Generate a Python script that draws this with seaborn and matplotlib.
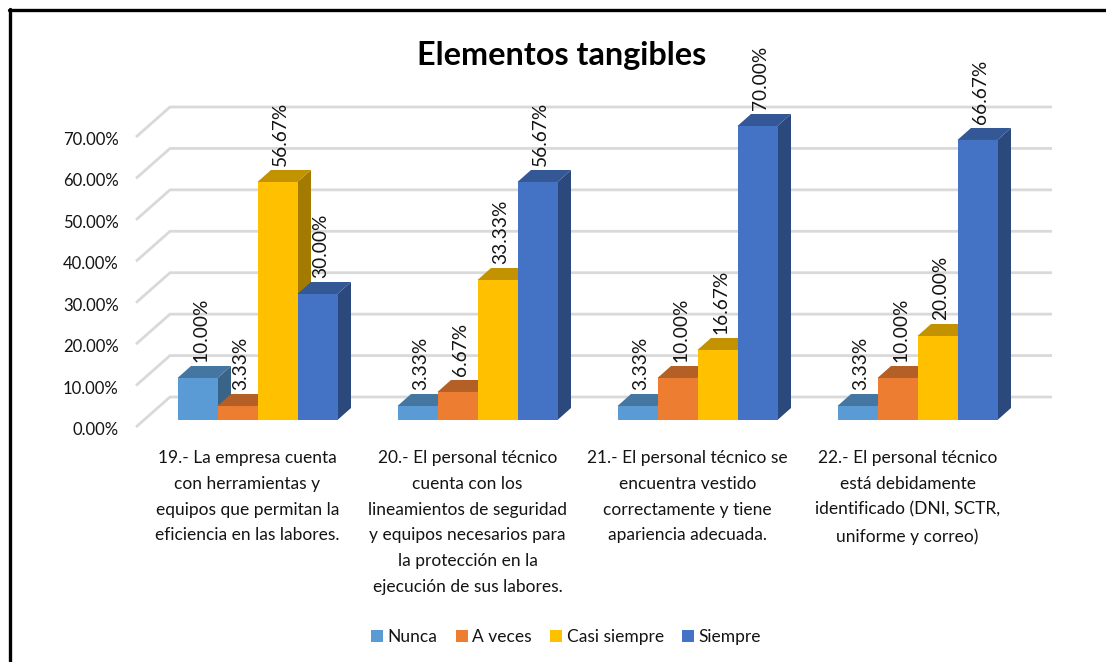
import matplotlib
matplotlib.use("Agg")
import matplotlib.pyplot as plt
import matplotlib.colors as mcolors
from matplotlib.lines import Line2D
from matplotlib.patches import Patch, Polygon
from matplotlib.transforms import IdentityTransform, ScaledTranslation
import pandas as pd
import seaborn as sns

TITLE = "Elementos tangibles"
QUESTIONS = [
    "19.- La empresa cuenta\ncon herramientas y\nequipos que permitan la\neficiencia en las labores.",
    "20.- El personal técnico\ncuenta con los\nlineamientos de seguridad\ny equipos necesarios para\nla protección en la\nejecución de sus labores.",
    "21.- El personal técnico se\nencuentra vestido\ncorrectamente y tiene\napariencia adecuada.",
    "22.- El personal técnico\nestá debidamente\nidentificado (DNI, SCTR,\nuniforme y correo)",
]
SERIES = ["Nunca", "A veces", "Casi siempre", "Siempre"]
NUNCA = [10.00, 3.33, 3.33, 3.33]
A_VECES = [3.33, 6.67, 10.00, 10.00]
CASI_SIEMPRE = [56.67, 33.33, 16.67, 20.00]
SIEMPRE = [30.00, 56.67, 70.00, 66.67]
TICKS = [0, 10, 20, 30, 40, 50, 60, 70]
COLORS = ["#5B9BD5", "#ED7D31", "#FFC000", "#4472C4"]

W, H = 1106, 662
DX, DY = 13.5, 12.0
FONT = "Lato"
INK = "#141414"

sns.set_theme(style="white")
plt.rcParams["font.family"] = [FONT, "DejaVu Sans"]

df = pd.DataFrame({"q": QUESTIONS * 4,
                   "s": [s for s in SERIES for _ in QUESTIONS],
                   "v": NUNCA + A_VECES + CASI_SIEMPRE + SIEMPRE})

fig = plt.figure(figsize=(W / 100, H / 100), dpi=100, facecolor="white")


def rect(l, t, r, b):
    return [l / W, 1 - b / H, (r - l) / W, (b - t) / H]


def shift(artist, dx_px, dy_px):
    artist.set_transform(artist.get_transform()
                         + ScaledTranslation(dx_px / 100, dy_px / 100, fig.dpi_scale_trans))


# Wall / grid axes
wall = fig.add_axes(rect(136, 137, 1052, 427), zorder=1)
wall.set_ylim(0, 70)
wall.set_xlim(0, 1)
wall.set_xticks([])
wall.set_yticks(TICKS)
wall.set_yticklabels([f"{t:.2f}%" for t in TICKS], fontsize=12, color=INK)
wall.tick_params(axis="y", length=0, pad=12.5)
for lab in wall.get_yticklabels():
    shift(lab, 0, -1.5)
for s in wall.spines.values():
    s.set_visible(False)
wall.patch.set_alpha(0)
back = 30 / (290 / 70)
inner = 34 / 916
for t in TICKS:
    wall.plot([0, inner, 1], [t, t + back, t + back], color="#D9D9D9", lw=2.0,
              clip_on=False, solid_capstyle="butt", solid_joinstyle="miter")

# Bars
ax = fig.add_axes(rect(147.5, 0, 1027.5, 420), zorder=2)
ax.patch.set_alpha(0)
sns.barplot(data=df, x="q", y="v", hue="s", hue_order=SERIES, palette=COLORS,
            width=160 / 220, gap=0, saturation=1, legend=False, ax=ax, errorbar=None,
            linewidth=0, edgecolor="none")
ax.set_ylim(0, 100)
ax.set_xlim(-0.5, 3.5)
ax.set_xlabel("")
ax.set_ylabel("")
ax.set_yticks([])
for s in ax.spines.values():
    s.set_visible(False)
ax.tick_params(axis="x", length=0, pad=21.7)
for lab in ax.get_xticklabels():
    lab.set_fontsize(12.5)
    lab.set_color(INK)
    lab.set_linespacing(1.75)
    lab.set_ha("center")
    lab.set_va("top")
    shift(lab, -10, 0)


def shade(c, f):
    r, g, b = mcolors.to_rgb(c)
    return (r * f, g * f, b * f)


fig.canvas.draw()
z = 3
# draw bars left to right so later bars overlap earlier side faces
all_bars = sorted(((b, ci) for ci, cont in enumerate(ax.containers) for b in cont),
                  key=lambda p: p[0].get_x())
for bar, ci in all_bars:
    x0, x1 = bar.get_x(), bar.get_x() + bar.get_width()
    h = bar.get_height()
    (px0, py0), (px1, py1) = ax.transData.transform([(x0, 0), (x1, h)])
    side = Polygon([(px1, py0), (px1 + DX, py0 + DY), (px1 + DX, py1 + DY), (px1, py1)],
                   closed=True, transform=IdentityTransform(), fc=shade(COLORS[ci], 0.64),
                   ec="none", zorder=z, clip_on=False)
    top = Polygon([(px0, py1), (px0 + DX, py1 + DY), (px1 + DX, py1 + DY), (px1, py1)],
                  closed=True, transform=IdentityTransform(), fc=shade(COLORS[ci], 0.76),
                  ec="none", zorder=z + 1, clip_on=False)
    ax.add_artist(side)
    ax.add_artist(top)
    bar.set_zorder(z + 2)
    z += 3

for bar, ci in all_bars:
    ax.annotate(f"{bar.get_height():.2f}%",
                xy=(bar.get_x() + bar.get_width() / 2, bar.get_height()),
                xytext=(3 * 0.72, 16 * 0.72), textcoords="offset points",
                rotation=90, ha="center", va="bottom", fontsize=13.8, color=INK,
                zorder=z + 1, annotation_clip=False)

# Title
fig.text(562 / W, 1 - 55 / H, TITLE, ha="center", va="center", fontsize=23.3,
         fontweight="bold", color="black")

# Legend
handles = [Patch(fc=c, ec="none", label=s) for c, s in zip(COLORS, SERIES)]
fig.legend(handles=handles, loc="center", bbox_to_anchor=(566 / W, 1 - 637 / H), ncol=4,
           frameon=False, fontsize=12.5, handlelength=0.69, handleheight=0.69,
           handletextpad=0.26, columnspacing=1.05, labelcolor=INK)

# Outer frame: left and top edges
fig.add_artist(Line2D([10 / W, 10 / W], [0, 1 - 8.5 / H], color="black", lw=2.4,
                      transform=fig.transFigure))
fig.add_artist(Line2D([8.5 / W, 1], [1 - 10 / H, 1 - 10 / H], color="black", lw=2.4,
                      transform=fig.transFigure))

fig.savefig("out.png", dpi=100)
